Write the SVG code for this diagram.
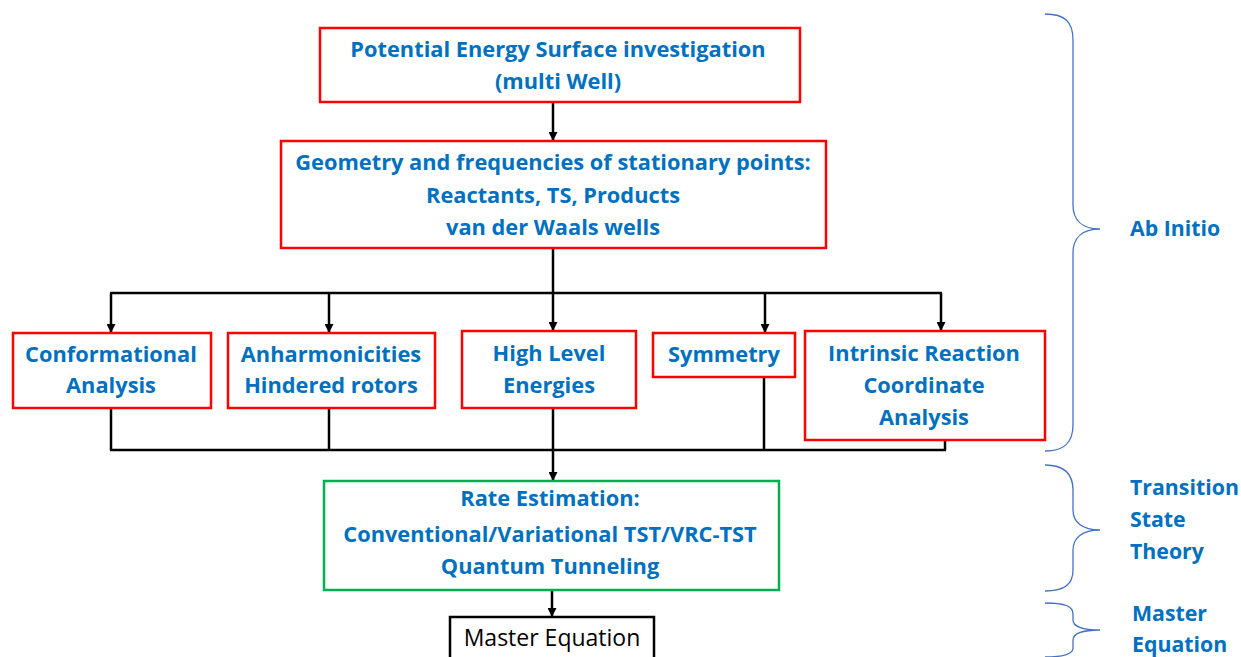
<svg xmlns="http://www.w3.org/2000/svg" width="1241" height="657" viewBox="0 0 1241 657">
<style>
.box{fill:#fff;stroke:#FF0000;stroke-width:2.5}
.gbox{fill:#fff;stroke:#00B050;stroke-width:2.5}
.kbox{fill:#fff;stroke:#000;stroke-width:2.5}
.t{font-family:"Open Sans","Noto Sans",sans-serif;font-weight:bold;font-size:21.8px;fill:#0070C0;text-anchor:middle}
.lab{font-family:"Open Sans","Noto Sans",sans-serif;font-weight:bold;font-size:21.3px;fill:#0070C0}
.m{font-family:"Open Sans","Liberation Sans",sans-serif;font-size:23px;fill:#000;text-anchor:middle}
.c{fill:none;stroke:#000;stroke-width:2.5}
.br{fill:none;stroke:#4472C4;stroke-width:1.3}
</style>
<defs>
<marker id="ah" markerWidth="9" markerHeight="9" refX="8" refY="4.5" orient="auto" markerUnits="userSpaceOnUse">
<path d="M0,0 L9,4.5 L0,9 z" fill="#000"/>
</marker>
</defs>
<rect width="1241" height="657" fill="#fff"/>
<g id="connectors">
<line class="c" x1="553" y1="102" x2="553" y2="140" marker-end="url(#ah)"/>
<line class="c" x1="553" y1="248" x2="553" y2="293"/>
<line class="c" x1="110" y1="293" x2="942" y2="293"/>
<line class="c" x1="111" y1="293" x2="111" y2="332" marker-end="url(#ah)"/>
<line class="c" x1="329" y1="293" x2="329" y2="332" marker-end="url(#ah)"/>
<line class="c" x1="553" y1="293" x2="553" y2="330" marker-end="url(#ah)"/>
<line class="c" x1="765" y1="293" x2="765" y2="332" marker-end="url(#ah)"/>
<line class="c" x1="941" y1="293" x2="941" y2="330" marker-end="url(#ah)"/>
<line class="c" x1="111" y1="408" x2="111" y2="450"/>
<line class="c" x1="329" y1="408" x2="329" y2="450"/>
<line class="c" x1="553" y1="408" x2="553" y2="450"/>
<line class="c" x1="764" y1="377" x2="764" y2="450"/>
<line class="c" x1="945" y1="440" x2="945" y2="450"/>
<line class="c" x1="110" y1="450" x2="946" y2="450"/>
<line class="c" x1="553" y1="450" x2="553" y2="480" marker-end="url(#ah)"/>
<line class="c" x1="552" y1="590" x2="552" y2="616" marker-end="url(#ah)"/>
</g>
<g id="pes">
<rect class="box" x="320" y="28" width="480" height="74"/>
<text class="t" x="558" y="57">Potential Energy Surface investigation</text>
<text class="t" x="558" y="89">(multi Well)</text>
</g>
<g id="geometry">
<rect class="box" x="281" y="141" width="545" height="107"/>
<text class="t" x="553" y="170">Geometry and frequencies of stationary points:</text>
<text class="t" x="553" y="203">Reactants, TS, Products</text>
<text class="t" x="553" y="235">van der Waals wells</text>
</g>
<g id="conformational">
<rect class="box" x="13" y="333" width="198" height="75"/>
<text class="t" x="111" y="362">Conformational</text>
<text class="t" x="111" y="393">Analysis</text>
</g>
<g id="anharmonicities">
<rect class="box" x="228" y="333" width="207" height="75"/>
<text class="t" x="331" y="362">Anharmonicities</text>
<text class="t" x="331" y="393">Hindered rotors</text>
</g>
<g id="highlevel">
<rect class="box" x="462" y="331" width="174" height="77"/>
<text class="t" x="549" y="361">High Level</text>
<text class="t" x="549" y="393">Energies</text>
</g>
<g id="symmetry">
<rect class="box" x="653" y="333" width="142" height="44"/>
<text class="t" x="724" y="362">Symmetry</text>
</g>
<g id="irc">
<rect class="box" x="805" y="331" width="240" height="109"/>
<text class="t" x="924" y="361">Intrinsic Reaction</text>
<text class="t" x="924" y="393">Coordinate</text>
<text class="t" x="924" y="425">Analysis</text>
</g>
<g id="rate">
<rect class="gbox" x="324" y="481" width="455" height="109"/>
<text class="t" x="550" y="506">Rate Estimation:</text>
<text class="t" x="550" y="542">Conventional/Variational TST/VRC-TST</text>
<text class="t" x="550" y="574">Quantum Tunneling</text>
</g>
<g id="master">
<rect class="kbox" x="450" y="617" width="204" height="50"/>
<text class="m" x="552" y="646">Master Equation</text>
</g>
<g id="braces">
<path class="br" d="M1045,14 C1065,14 1073,22 1073,40 L1073,205 C1073,220 1082,229 1100,229 C1082,229 1073,238 1073,253 L1073,425 C1073,442 1065,451 1045,451"/>
<path class="br" d="M1045,465 C1065,465 1073,474 1073,490 L1073,510 C1073,522 1082,530 1100,530 C1082,530 1073,538 1073,550 L1073,570 C1073,584 1065,591 1045,591"/>
<path class="br" d="M1045,603 C1065,603 1073,606 1073,614 L1073,620 C1073,626 1082,630 1100,630 C1082,630 1073,634 1073,640 L1073,648 C1073,654 1065,657 1045,657"/>
</g>
<g id="labels">
<text class="lab" x="1130" y="236">Ab Initio</text>
<text class="lab" x="1130" y="495">Transition</text>
<text class="lab" x="1130" y="527">State</text>
<text class="lab" x="1130" y="559">Theory</text>
<text class="lab" x="1132" y="621">Master</text>
<text class="lab" x="1132" y="652">Equation</text>
</g>
</svg>
